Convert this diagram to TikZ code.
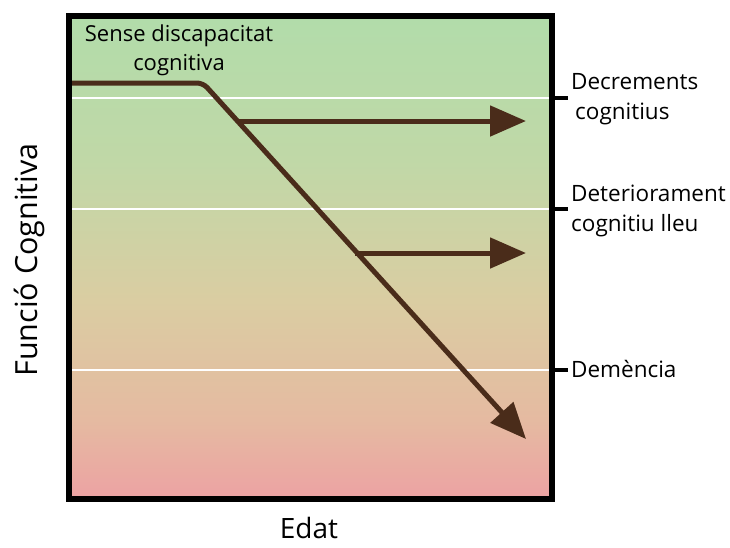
\documentclass[tikz,border=0pt]{standalone}
\usepackage{fontspec}
\setmainfont{Open Sans}
\usetikzlibrary{arrows.meta}
\definecolor{gtop}{RGB}{178,220,170}
\definecolor{gA}{RGB}{192,216,167}
\definecolor{gB}{RGB}{218,205,162}
\definecolor{gC}{RGB}{229,186,161}
\definecolor{gbot}{RGB}{236,163,163}
\definecolor{brownline}{RGB}{74,44,26}
\pgfdeclareverticalshading{bgshade}{100bp}{color(0bp)=(gbot); color(25bp)=(gbot); color(33bp)=(gC); color(45.5bp)=(gB); color(60.2bp)=(gA); color(75bp)=(gtop); color(100bp)=(gtop)}
\tikzset{
  trend/.style={draw=brownline, line width=5pt},
  trendarrow/.style={trend, -{Triangle[length=36pt,width=30pt]}},
  tickmark/.style={draw=black, line width=3.5pt},
  level/.style={draw=white, line width=1.2pt},
  lab/.style={inner sep=0pt, font=\fontsize{22.5}{30}\selectfont, align=left, anchor=west},
}
\begin{document}
\begin{tikzpicture}[x=1pt,y=-1pt]
\useasboundingbox (0,0) rectangle (730,547);
% background gradient
\shade[shading=bgshade] (72,19) rectangle (549,496);
% level lines
\draw[level] (72,98) -- (549,98);
\draw[level] (72,209) -- (549,209);
\draw[level] (72,370) -- (549,370);
% frame
\draw[line width=6pt] (69,16) rectangle (552,499);
% ticks
\coordinate (t1a) at (554,98);  \coordinate (t1b) at (568,98);
\coordinate (t2a) at (554,209); \coordinate (t2b) at (568,209);
\coordinate (t3a) at (554,370); \coordinate (t3b) at (568,370);
\draw[tickmark] (t1a) -- (t1b);
\draw[tickmark] (t2a) -- (t2b);
\draw[tickmark] (t3a) -- (t3b);
% labels
\node[lab] (dec) at (571,99) {Decrements\\\hspace{4pt}cognitius};
\node[lab] (det) at (571,211) {Deteriorament\\cognitiu lleu};
\node[lab] (dem) at (571,369) {Demència};
\node[inner sep=0pt, font=\fontsize{22}{29}\selectfont, align=center] (sense) at (179,50) {Sense discapacitat\\cognitiva};
\node[inner sep=0pt, font=\fontsize{28}{34}\selectfont, anchor=base] (edat) at (309,538) {Edat};
\node[inner sep=0pt, font=\fontsize{30.5}{36}\selectfont, rotate=90, anchor=base] (func) at (37,260) {Funció Cognitiva};
% trend lines
\coordinate (s0) at (72,83);
\coordinate (bend) at (203,83);
\coordinate (b1) at (237,121);
\coordinate (b2) at (355,253);
\coordinate (e0) at (526,439);
\coordinate (e1) at (526,121);
\coordinate (e2) at (526,253);
\draw[trendarrow, rounded corners=6pt] (s0) -- (bend) -- (e0);
\draw[trendarrow] (b1) -- (e1);
\draw[trendarrow] (b2) -- (e2);
\end{tikzpicture}
\end{document}
